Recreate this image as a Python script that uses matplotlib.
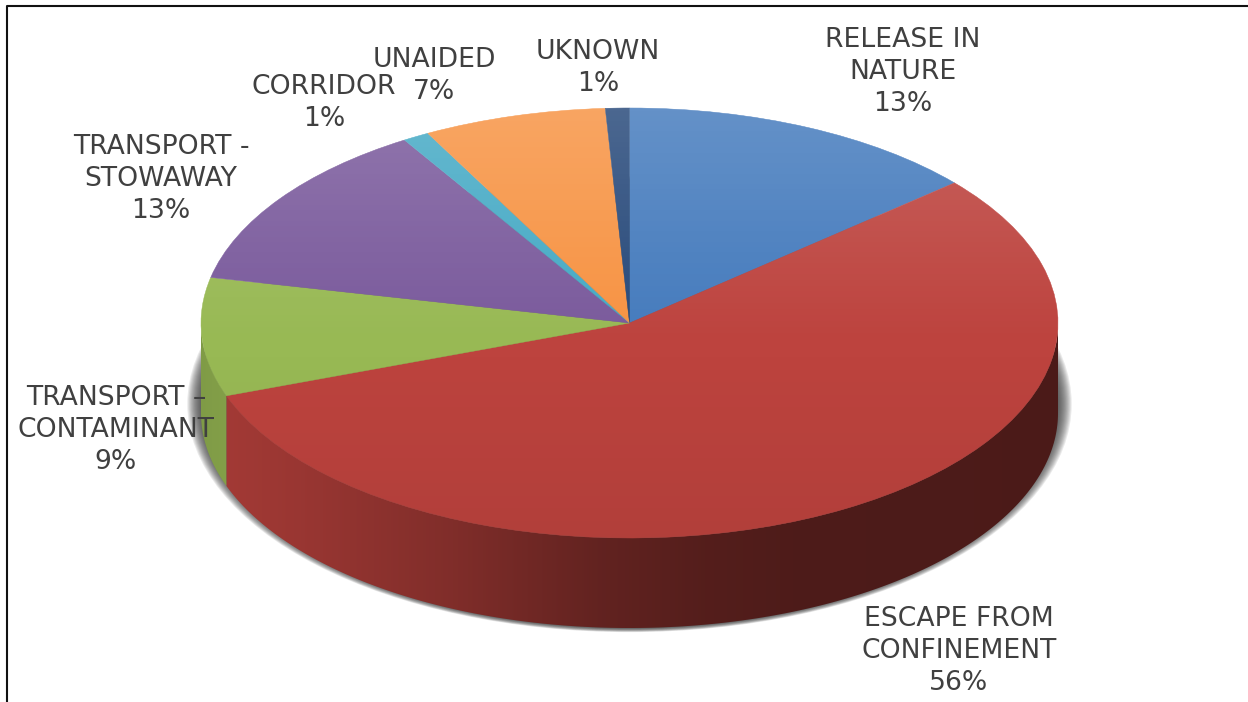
import matplotlib
matplotlib.use("Agg")
import matplotlib.pyplot as plt
import numpy as np
from matplotlib.colors import to_rgb
from matplotlib.lines import Line2D
from matplotlib.patches import Ellipse, Polygon

W, H = 1248, 702

categories = ["RELEASE IN\nNATURE", "ESCAPE FROM\nCONFINEMENT", "TRANSPORT \u2013\nCONTAMINANT",
              "TRANSPORT -\nSTOWAWAY", "CORRIDOR", "UNAIDED", "UKNOWN"]
shares = [13.7, 55.8, 8.9, 12.8, 1.0, 6.9, 0.9]
pct_labels = ["13%", "56%", "9%", "13%", "1%", "7%", "1%"]
colors = ["#457bbd", "#bd433e", "#98b954", "#7a5a9c", "#46aac5", "#f79343", "#27497a"]

# label centres in pixels
label_x = [903, 959, 116, 161, 324, 434, 598]
label_y = [72, 651, 430, 179, 103, 76, 68]

# pie geometry in pixels
cx, cy, rx, ry, depth = 629.5, 323, 428.5, 215, 90

fig = plt.figure(figsize=(W / 100, H / 100), dpi=100, facecolor="white")
ax = fig.add_axes([0, 0, 1, 1])

wedges, _ = ax.pie(shares, colors=colors, startangle=90, counterclock=False, radius=1,
                   wedgeprops=dict(linewidth=0.3, zorder=3))
for w, c in zip(wedges, colors):
    w.set_edgecolor(c)
ax.set_aspect("auto")
ax.set_xlim(-cx / rx, (W - cx) / rx)
ax.set_ylim(-(H - cy) / ry, cy / ry)
ax.set_autoscale_on(False)
d = depth / ry

# soft shadow under the wall
for k in np.linspace(1.032, 0.998, 14):
    ax.add_patch(Ellipse((0, -d * 0.9), 2 * k, 2 * (1 + d * 0.1 + (k - 1) * 0.6), fc="#303030",
                         ec="none", alpha=0.1, zorder=1))

# outer wall, shaded from left to right
xs = np.linspace(-1, 1, 400)
px = cx + xs * rx
shade = np.interp(px, [201, 225, 300, 450, 600, 700, 800, 1058],
                  [0.84, 0.86, 0.81, 0.68, 0.52, 0.45, 0.41, 0.40])
for w, c in zip(wedges, colors):
    t0, t1 = max(w.theta1, -180), min(w.theta2, 0)
    if t1 <= t0:
        continue
    t = np.radians(np.linspace(t0, t1, 200))
    top = np.column_stack([np.cos(t), np.sin(t)])
    bottom = np.column_stack([np.cos(t[::-1]), np.sin(t[::-1]) - d])
    clip = Polygon(np.vstack([top, bottom]), transform=ax.transData)
    grad = (shade[:, None] * np.array(to_rgb(c)))[None, :, :]
    im = ax.imshow(grad, extent=(-1, 1, -1 - d, 1), aspect="auto", zorder=2,
                   interpolation="bilinear")
    im.set_clip_path(clip)

# light from the top on the upper face
ys = np.linspace(1, -1, 300)
overlay = np.zeros((300, 1, 4))
up = ys > -0.1
overlay[up, 0, :3] = 1
overlay[up, 0, 3] = np.interp(ys[up], [-0.1, 0.25, 1], [0, 0.05, 0.17])
overlay[~up, 0, 3] = np.interp(ys[~up], [-1, -0.1], [0.06, 0])
im = ax.imshow(overlay, extent=(-1, 1, -1, 1), aspect="auto", zorder=4)
im.set_clip_path(Ellipse((0, 0), 2, 2, transform=ax.transData))

for name, pct, x, y in zip(categories, pct_labels, label_x, label_y):
    fig.text(x / W, 1 - y / H, f"{name}\n{pct}", ha="center", va="center", ma="center",
             fontsize=19.2, color="#404040", linespacing=1.28, zorder=10)

# frame of the pasted picture: only left and top show
fig.add_artist(Line2D([7 / W, 7 / W, 1], [0, 1 - 5.5 / H, 1 - 5.5 / H], color="#111111", lw=1.5))

fig.savefig("out.png", dpi=100)
